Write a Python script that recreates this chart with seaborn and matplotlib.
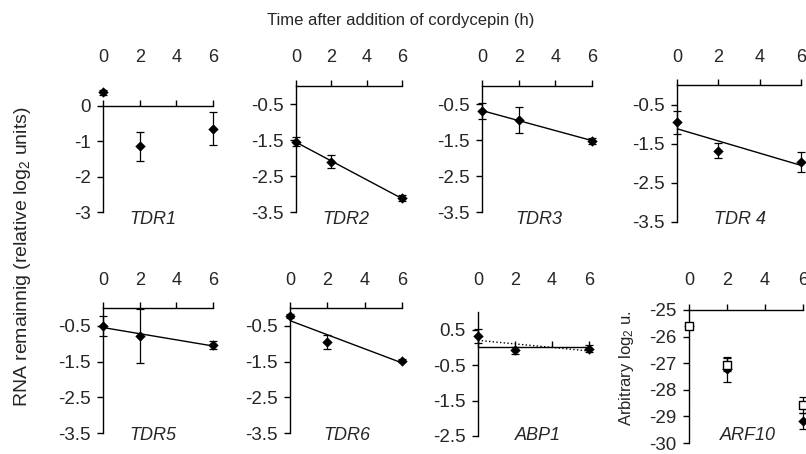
import numpy as np
import pandas as pd
import matplotlib
matplotlib.use('Agg')
import matplotlib.pyplot as plt
import matplotlib.transforms as mtrans
import seaborn as sns

# --- data ---
hours = [0, 2, 6]
xticks = [0, 2, 4, 6]

tdr1_mean = [0.37, -1.15, -0.65]
tdr1_err = [0.07, 0.40, 0.47]
tdr2_mean = [-1.55, -2.10, -3.12]
tdr2_err = [0.13, 0.18, 0.08]
tdr3_mean = [-0.69, -0.95, -1.52]
tdr3_err = [0.22, 0.36, 0.08]
tdr4_mean = [-0.95, -1.68, -1.97]
tdr4_err = [0.29, 0.19, 0.25]
tdr5_mean = [-0.50, -0.79, -1.04]
tdr5_err = [0.29, 0.76, 0.12]
tdr6_mean = [-0.22, -0.95, -1.47]
tdr6_err = [0.05, 0.19, 0.04]
abp1_mean = [0.32, -0.08, -0.04]
abp1_err = [0.20, 0.10, 0.10]
arf10_filled_mean = [-25.62, -27.23, -29.19]
arf10_filled_err = [0.05, 0.48, 0.30]
arf10_open_mean = [-25.62, -27.05, -28.57]
arf10_open_err = [0.08, 0.25, 0.30]

yticks_tdr1 = [0, -1, -2, -3]
yticks_tdr = [-0.5, -1.5, -2.5, -3.5]
yticks_abp1 = [0.5, -0.5, -1.5, -2.5]
yticks_arf10 = [-25, -26, -27, -28, -29, -30]

sns.set_style('ticks')
plt.rcParams['font.family'] = ['Liberation Sans', 'DejaVu Sans']
plt.rcParams['mathtext.fontset'] = 'custom'
plt.rcParams['mathtext.rm'] = 'Liberation Sans'
plt.rcParams['mathtext.it'] = 'Liberation Sans:italic'
plt.rcParams['axes.unicode_minus'] = False

W, H = 806, 454
fig = plt.figure(figsize=(W / 100, H / 100), dpi=100)

# panel layout: name, mean, err, pixel box (left, top, right, bottom), ylim, yticks,
# left spine bounds, level of the time axis, trend style, label x, tick-label row, name row
panels = [
    ('TDR1', tdr1_mean, tdr1_err, (103, 86, 213, 212), (-3, 0.55), yticks_tdr1, (-3, 0), 0, None, 2.7, 58, 219),
    ('TDR2', tdr2_mean, tdr2_err, (296, 86, 402, 212), (-3.5, 0), yticks_tdr, (-3.5, 0), 0, '-', 2.8, 58, 219),
    ('TDR3', tdr3_mean, tdr3_err, (482, 86, 592, 212), (-3.5, 0), yticks_tdr, (-3.5, 0), 0, '-', 3.1, 58, 219),
    ('TDR 4', tdr4_mean, tdr4_err, (677, 85, 801, 222), (-3.5, 0), yticks_tdr, (-3.5, 0), 0, '-', 3.05, 58, 219),
    ('TDR5', tdr5_mean, tdr5_err, (103, 308, 213, 433), (-3.5, 0), yticks_tdr, (-3.5, 0), 0, '-', 2.7, 281, 435),
    ('TDR6', tdr6_mean, tdr6_err, (290, 308, 402, 433), (-3.5, 0), yticks_tdr, (-3.5, 0), 0, '-', 3.05, 281, 435),
    ('ABP1', abp1_mean, abp1_err, (478, 312, 589, 436), (-2.5, 1.0), yticks_abp1, (-2.5, 1.0), 0, ':', 3.25, 281, 435),
    ('ARF10', arf10_filled_mean, arf10_filled_err, (689, 310, 803, 443), (-30, -25), yticks_arf10, (-30, -25), -25, None, 3.1, 281, 436),
]

for name, mean, err, box, ylim, yt, bounds, level, trend, lx, tick_row, name_row in panels:
    l, t, r, b = box
    ax = fig.add_axes([l / W, 1 - b / H, (r - l) / W, (b - t) / H])
    ax.set_xlim(0, 6)
    ax.set_ylim(*ylim)
    ax.patch.set_alpha(0)

    for s in ['right', 'bottom']:
        ax.spines[s].set_visible(False)
    ax.spines['top'].set_position(('data', level))
    ax.spines['top'].set_bounds(0, 6)
    ax.spines['left'].set_bounds(*bounds)
    for s in ['top', 'left']:
        ax.spines[s].set_linewidth(1.0)
        ax.spines[s].set_color('black')

    ax.xaxis.set_ticks_position('top')
    ax.set_xticks(xticks)
    ax.tick_params(axis='x', direction='out', length=4, width=1.0, color='black',
                   labeltop=False, labelbottom=False)
    ax.set_yticks(yt)
    ax.tick_params(axis='y', direction='out', length=4, width=1.0, color='black',
                   labelsize=13.5, pad=5)

    # hour labels sit in one row above each panel
    pad = (t - tick_row - 8) / 1.389
    sec = ax.secondary_xaxis('top')
    sec.set_xticks(xticks)
    sec.spines['top'].set_visible(False)
    sec.tick_params(length=0, pad=pad, labelsize=13)

    if trend is not None:
        sns.regplot(x=hours, y=mean, ax=ax, ci=None, scatter=False, truncate=True,
                    line_kws=dict(color='black', lw=1.0, ls=trend))

    eb = ax.errorbar(hours, mean, yerr=err, fmt='none', ecolor='black',
                     elinewidth=0.9, capsize=3, capthick=0.9, zorder=3)
    for art in eb.lines[1] + eb.lines[2]:
        art.set_clip_on(False)
    sns.scatterplot(x=hours, y=mean, ax=ax, marker='D', s=28, color='black',
                    edgecolor='black', linewidth=0, zorder=4, clip_on=False, legend=False)

    if name == 'ARF10':
        eb2 = ax.errorbar(hours, arf10_open_mean, yerr=arf10_open_err, fmt='none',
                          ecolor='black', elinewidth=0.9, capsize=3, capthick=0.9, zorder=5)
        for art in eb2.lines[1] + eb2.lines[2]:
            art.set_clip_on(False)
        sns.scatterplot(x=hours, y=arf10_open_mean, ax=ax, marker='s', s=32, color='white',
                        edgecolor='black', linewidth=1.0, zorder=6, clip_on=False, legend=False)
        ax.text(-0.55, 0.56, 'Arbitrary log$_2$ u.', transform=ax.transAxes, rotation=90,
                ha='center', va='center', fontsize=12)

    trans = mtrans.blended_transform_factory(ax.transData, fig.transFigure)
    ax.text(lx, 1 - name_row / H, name, transform=trans, ha='center', va='center',
            fontsize=13, style='italic')

fig.text(401 / W, 1 - 20 / H, 'Time after addition of cordycepin (h)',
         ha='center', va='center', fontsize=12)
fig.text(23 / W, 1 - 257 / H, 'RNA remainnig (relative log$_2$ units)',
         ha='center', va='center', rotation=90, fontsize=14)

fig.savefig('out.png', dpi=100)
